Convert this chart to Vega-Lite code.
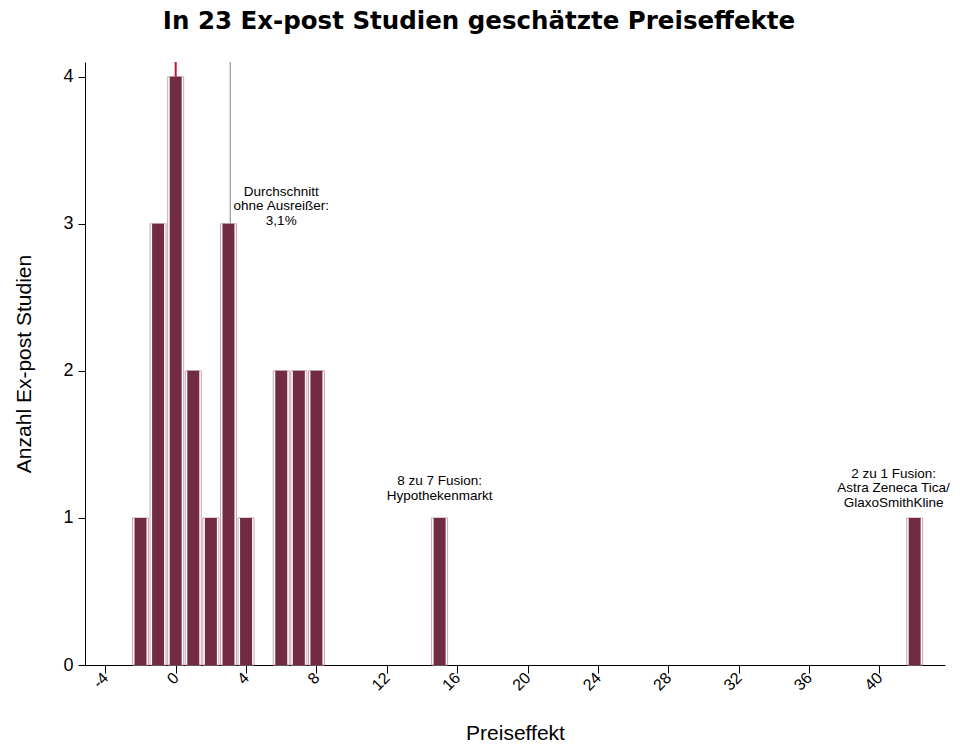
{
  "$schema": "https://vega.github.io/schema/vega-lite/v6.json",
  "autosize": "none",
  "width": 860,
  "height": 603,
  "padding": {"left": 85, "top": 62, "right": 15, "bottom": 80},
  "background": "white",
  "config": {
    "view": {"stroke": null},
    "font": "Liberation Sans",
    "axis": {"grid": false, "domainColor": "black", "tickColor": "black", "labelColor": "black", "titleColor": "black", "labelFont": "Liberation Sans", "titleFont": "Liberation Sans", "titleFontWeight": "normal"}
  },
  "title": {
    "text": "In 23 Ex-post Studien geschätzte Preiseffekte",
    "font": "DejaVu Sans",
    "fontSize": 24.5,
    "fontWeight": "bold",
    "color": "black",
    "anchor": "middle",
    "dx": -36,
    "offset": 27
  },
  "datasets": {
    "hist": [
      {"effekt": -2, "anzahl": 1},
      {"effekt": -1, "anzahl": 3},
      {"effekt": 0, "anzahl": 4},
      {"effekt": 1, "anzahl": 2},
      {"effekt": 2, "anzahl": 1},
      {"effekt": 3, "anzahl": 3},
      {"effekt": 4, "anzahl": 1},
      {"effekt": 6, "anzahl": 2},
      {"effekt": 7, "anzahl": 2},
      {"effekt": 8, "anzahl": 2},
      {"effekt": 15, "anzahl": 1},
      {"effekt": 42, "anzahl": 1}
    ],
    "notes": [
      {"x": 6.0, "y": 3.218, "text": "Durchschnitt\nohne Ausreißer:\n3,1%"},
      {"x": 15.0, "y": 1.25, "text": "8 zu 7 Fusion:\nHypothekenmarkt"},
      {"x": 40.8, "y": 1.30, "text": "2 zu 1 Fusion:\nAstra Zeneca Tica/\nGlaxoSmithKline"}
    ],
    "mean": [{"x": 3.1, "y0": 0, "y1": 4.1}],
    "median": [{"x": 0, "y0": 4.0, "y1": 4.1}]
  },
  "layer": [
    {
      "data": {"name": "mean"},
      "mark": {"type": "rule", "color": "#808080", "strokeWidth": 1},
      "encoding": {
        "x": {"field": "x", "type": "quantitative"},
        "y": {"field": "y0", "type": "quantitative"},
        "y2": {"field": "y1"}
      }
    },
    {
      "data": {"name": "hist"},
      "mark": {"type": "bar", "width": 16, "fill": "white", "stroke": "#c9a5b0", "strokeWidth": 1},
      "encoding": {
        "x": {
          "field": "effekt", "type": "quantitative",
          "scale": {"domain": [-4.87, 43.44], "nice": false, "zero": false},
          "axis": {
            "title": "Preiseffekt", "titleFontSize": 21, "titlePadding": 29,
            "values": [-4, -2, 0, 2, 4, 6, 8, 10, 12, 14, 16, 18, 20, 22, 24, 26, 28, 30, 32, 34, 36, 38, 40, 42],
            "labelExpr": "datum.value % 4 == 0 ? '' + datum.value : ''",
            "labelAngle": -45, "labelAlign": "right", "labelBaseline": "middle",
            "labelFontSize": 16, "tickSize": 8, "labelPadding": 2
          }
        },
        "y": {
          "field": "anzahl", "type": "quantitative",
          "scale": {"domain": [0, 4.1], "nice": false},
          "axis": {
            "title": "Anzahl Ex-post Studien", "titleFontSize": 21, "titlePadding": 28,
            "values": [0, 1, 2, 3, 4], "format": "d", "labelFontSize": 18, "tickSize": 7, "labelPadding": 5
          }
        }
      }
    },
    {
      "data": {"name": "hist"},
      "mark": {"type": "bar", "width": 12, "fill": "#722c42"},
      "encoding": {
        "x": {"field": "effekt", "type": "quantitative"},
        "y": {"field": "anzahl", "type": "quantitative"}
      }
    },
    {
      "data": {"name": "median"},
      "mark": {"type": "rule", "color": "#c8102e", "strokeWidth": 2},
      "encoding": {
        "x": {"field": "x", "type": "quantitative"},
        "y": {"field": "y0", "type": "quantitative"},
        "y2": {"field": "y1"}
      }
    },
    {
      "data": {"name": "notes"},
      "mark": {"type": "text", "fontSize": 13.5, "lineHeight": 14.5, "lineBreak": "\n", "align": "center", "baseline": "middle", "color": "black"},
      "encoding": {
        "x": {"field": "x", "type": "quantitative"},
        "y": {"field": "y", "type": "quantitative"},
        "text": {"field": "text"}
      }
    }
  ]
}
